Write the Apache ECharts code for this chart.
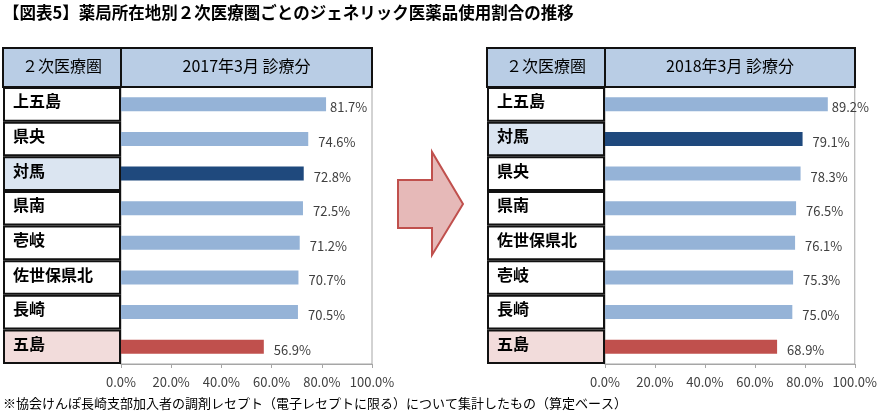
<!DOCTYPE html>
<html><head><meta charset="utf-8">
<script src="https://cdn.jsdelivr.net/npm/echarts@6/dist/echarts.min.js"></script>
<style>html,body{margin:0;padding:0;background:#fff}#c{width:880px;height:414px}</style>
</head><body><div id="c"></div>
<script>
const titleText = '【図表5】薬局所在地別２次医療圏ごとのジェネリック医薬品使用割合の推移';
const noteText = '※協会けんぽ長崎支部加入者の調剤レセプト（電子レセプトに限る）について集計したもの（算定ベース）';
const colHeader = '２次医療圏';
const periods = ['2017年3月 診療分', '2018年3月 診療分'];
const regions2017 = ['上五島','県央','対馬','県南','壱岐','佐世保県北','長崎','五島'];
const values2017 = [81.7,74.6,72.8,72.5,71.2,70.7,70.5,56.9];
const regions2018 = ['上五島','対馬','県央','県南','佐世保県北','壱岐','長崎','五島'];
const values2018 = [89.2,79.1,78.3,76.5,76.1,75.3,75.0,68.9];
const xTicks = [0,20,40,60,80,100];

const FONT = '"Noto Sans CJK JP", sans-serif';
const barColor = {'対馬':'#1f497d','五島':'#c0504d'};
const cellColor = {'対馬':'#dbe5f1','五島':'#f2dcdb'};
const lightBar = '#95b3d7';

const panels = [
  {regions: regions2017, values: values2017, labL: 3, chL: 121, chR: 372},
  {regions: regions2018, values: values2018, labL: 487, chL: 605, chR: 855}
];
const TOP = 87, H = 277, HEAD_T = 48;

const grids = [], xAxes = [], yAxes = [], series = [], graphics = [];
panels.forEach((p, i) => {
  const gLab = grids.length;
  grids.push({left: p.labL, top: TOP, width: p.chL - p.labL, height: H, containLabel: false});
  grids.push({left: p.chL, top: TOP, width: p.chR - p.chL, height: H, show: true,
    borderColor: '#a6a6a6', borderWidth: 1, backgroundColor: 'transparent'});
  xAxes.push({gridIndex: gLab, type: 'value', min: 0, max: 1, show: false});
  yAxes.push({gridIndex: gLab, type: 'category', inverse: true, data: p.regions, show: false});
  xAxes.push({gridIndex: gLab + 1, type: 'value', min: xTicks[0], max: xTicks[xTicks.length-1], interval: 20,
    axisLine: {show: true, lineStyle: {color: '#a6a6a6'}},
    axisTick: {show: true, length: 4, lineStyle: {color: '#a6a6a6'}},
    splitLine: {show: false},
    axisLabel: {formatter: v => v.toFixed(1) + '%', color: '#404040', fontSize: 13, fontFamily: FONT, margin: 12}});
  yAxes.push({gridIndex: gLab + 1, type: 'category', inverse: true, data: p.regions,
    axisLine: {show: false}, axisTick: {show: false}, axisLabel: {show: false}});
  series.push({type: 'bar', xAxisIndex: gLab, yAxisIndex: gLab, barWidth: '100%', silent: true,
    data: p.regions.map(r => ({value: 1, itemStyle: {color: cellColor[r] || '#ffffff'}})),
    itemStyle: {borderColor: '#111', borderWidth: 2},
    label: {show: true, position: 'insideLeft', distance: 10, offset: [0, -3], formatter: q => q.name,
      color: '#000', fontSize: 16, fontWeight: 'bold', fontFamily: FONT}});
  series.push({type: 'bar', xAxisIndex: gLab + 1, yAxisIndex: gLab + 1, barWidth: 14,
    data: p.values.map((v, k) => ({value: v, itemStyle: {color: barColor[p.regions[k]] || lightBar},
      label: v > 80 ? {distance: 4} : undefined})),
    label: {show: true, position: 'right', distance: 10, offset: [0, 3], formatter: q => q.value.toFixed(1) + '%',
      color: '#404040', fontSize: 13, fontFamily: FONT}});
  graphics.push({type: 'rect', shape: {x: p.labL, y: HEAD_T, width: p.chL - p.labL, height: TOP - HEAD_T},
    style: {fill: '#b9cde5', stroke: '#111', lineWidth: 2}});
  graphics.push({type: 'rect', shape: {x: p.chL, y: HEAD_T, width: p.chR - p.chL, height: TOP - HEAD_T},
    style: {fill: '#b9cde5', stroke: '#111', lineWidth: 2}});
  graphics.push({type: 'text', x: (p.labL + p.chL) / 2, y: (HEAD_T + TOP) / 2 - 2,
    style: {text: colHeader, fill: '#000', font: '16px ' + FONT, textAlign: 'center', textVerticalAlign: 'middle'}});
  graphics.push({type: 'text', x: (p.chL + p.chR) / 2, y: (HEAD_T + TOP) / 2 - 2,
    style: {text: periods[i], fill: '#000', font: '16px ' + FONT, textAlign: 'center', textVerticalAlign: 'middle'}});
});

graphics.push({type: 'text', x: 3, y: 13, style: {text: titleText, fill: '#000', font: 'bold 16.5px ' + FONT, textVerticalAlign: 'middle'}});
graphics.push({type: 'text', x: 3, y: 403, style: {text: noteText, fill: '#000', font: '13px ' + FONT, textVerticalAlign: 'middle'}});
graphics.push({type: 'polygon', shape: {points: [[398,180],[432,180],[432,152],[463,204],[432,255],[432,228],[398,228]]},
  style: {fill: '#e6b9b8', stroke: '#c0504d', lineWidth: 2}});

const chart = echarts.init(document.getElementById('c'), null, {renderer: 'canvas'});
chart.setOption({
  animation: false,
  backgroundColor: '#fff',
  grid: grids, xAxis: xAxes, yAxis: yAxes, series: series,
  graphic: graphics
});
</script></body></html>
